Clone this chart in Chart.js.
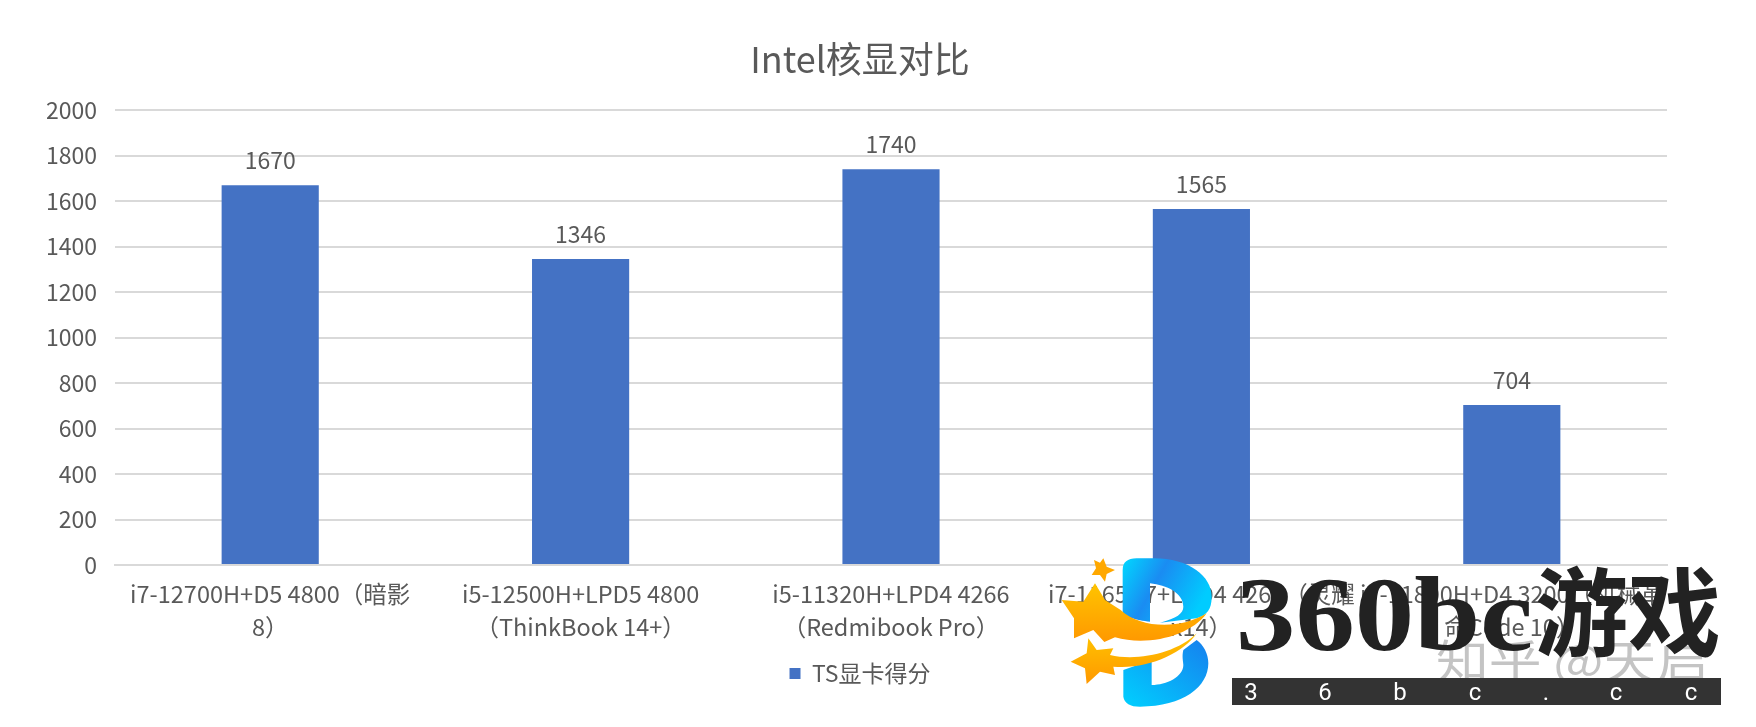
<!DOCTYPE html>
<html><head><meta charset="utf-8">
<style>html,body{margin:0;padding:0;background:#fff;overflow:hidden}
#w{position:relative;width:1756px;height:727px}
canvas{position:absolute;left:0;top:0}
#mark{position:absolute;left:0;top:0}
</style>
<script src="https://cdn.jsdelivr.net/npm/chart.js@4"></script>
</head><body>
<div id="w"><canvas id="c" width="1756" height="727"></canvas>
<svg id="mark" width="1756" height="727" viewBox="0 0 1756 727">
<defs>
<linearGradient id="bl" x1="0" y1="0" x2="1" y2="0.4"><stop offset="0" stop-color="#00d8ff"/><stop offset="0.45" stop-color="#1a8cf2"/><stop offset="1" stop-color="#00ccff"/></linearGradient>
<linearGradient id="bl2" x1="0" y1="1" x2="1" y2="0"><stop offset="0" stop-color="#00d0ff"/><stop offset="1" stop-color="#1680ee"/></linearGradient>
<linearGradient id="st" x1="0" y1="0" x2="0" y2="1"><stop offset="0" stop-color="#ffc400"/><stop offset="1" stop-color="#ff9800"/></linearGradient>
</defs>
<text x="1436" y="678" font-family="Noto Sans CJK SC" font-size="46" fill="#c4c4c4" textLength="273" lengthAdjust="spacingAndGlyphs">知乎 @天启</text>
<rect x="1232" y="678" width="489" height="27" fill="#333"/>
<g transform="translate(1050,550) scale(0.33333)">
<path d="M218 60Q218 25 260 25L310 25C420 25 485 80 485 140C485 180 470 195 440 205L330 218C380 205 400 190 400 170C400 130 350 105 300 100L300 215C260 210 218 200 218 185Z" fill="url(#bl)"/>
<path d="M220 360L220 440Q225 470 270 470C400 470 475 410 475 340C475 310 460 285 440 270L400 300C395 320 400 335 400 345C400 380 350 405 305 405L305 330Z" fill="url(#bl2)"/>
<path d="M135 100L165 150L212 180C270 235 390 240 470 190C420 260 290 290 195 262L163 276L130 240L72 265L72 205L35 150L100 155Z" fill="url(#st)"/>
<path d="M115 265L140 300L190 295L180 315C260 335 380 310 440 250C400 310 290 360 190 350L195 375L150 365L110 402L105 355L62 335L110 310Z" fill="url(#st)"/>
<path d="M160 25L170 50L195 60L170 72L165 95L150 75L125 75L138 55L132 30L150 38Z" fill="#ffa800"/>
</g>
<text x="1236" y="650" font-family="Liberation Serif" font-weight="700" font-size="106" fill="#222" textLength="297" lengthAdjust="spacingAndGlyphs">360bc</text>
<text x="1535" y="648" font-family="Noto Sans CJK SC" font-weight="700" font-size="96" fill="#222" textLength="186" lengthAdjust="spacingAndGlyphs">游戏</text>
<g font-family="Roboto" font-size="24" fill="#fff" text-anchor="middle">
<text x="1251" y="700">3</text><text x="1325" y="700">6</text><text x="1400" y="700">b</text><text x="1475" y="700">c</text><text x="1546" y="700">.</text><text x="1616" y="700">c</text><text x="1691" y="700">c</text>
</g>
</svg>
</div>
<script>
const categories = [
  ["i7-12700H+D5 4800（暗影","8）"],
  ["i5-12500H+LPD5 4800","（ThinkBook 14+）"],
  ["i5-11320H+LPD4 4266","（Redmibook Pro）"],
  ["i7-1165G7+LPD4 4266（灵耀","x14）"],
  ["i7-11800H+D4 3200（机械革","命Code 10）"]
];
const seriesName = "TS显卡得分";
const scores = [1670, 1346, 1740, 1565, 704];
const chartTitle = "Intel核显对比";
const FONT = '"Noto Sans CJK SC","Noto Sans",sans-serif';
const GREY = "#595959";

const valueLabels = {
  id: "valueLabels",
  afterDatasetsDraw(chart) {
    const { ctx } = chart;
    const meta = chart.getDatasetMeta(0);
    ctx.save();
    ctx.fillStyle = GREY;
    ctx.font = '23px ' + FONT;
    ctx.textAlign = "center";
    ctx.textBaseline = "middle";
    meta.data.forEach((bar, i) => ctx.fillText(String(scores[i]), bar.x, bar.y - 25));
    ctx.restore();
  }
};

new Chart(document.getElementById("c"), {
  type: "bar",
  data: { labels: categories, datasets: [{ label: seriesName, data: scores, backgroundColor: "#4472C4", categoryPercentage: 0.313, barPercentage: 1 }] },
  plugins: [valueLabels],
  options: {
    responsive: false, animation: false,
    layout: { padding: { left: 0, right: 36, top: 0, bottom: 32 } },
    plugins: {
      tooltip: { enabled: false },
      title: { display: true, text: chartTitle, color: GREY, font: { family: FONT, size: 36, weight: "normal", lineHeight: 1.2 }, padding: { top: 38, bottom: 29 } },
      legend: { position: "bottom", labels: { color: GREY, font: { family: FONT, size: 23 }, boxWidth: 11, boxHeight: 11, padding: 8 } }
    },
    scales: {
      x: {
        grid: { display: false }, border: { color: "#D9D9D9", width: 2 },
        ticks: { color: GREY, font: { family: FONT, size: 23.5, lineHeight: 1.4 }, autoSkip: false, maxRotation: 0, minRotation: 0, padding: 5 },
        afterFit(s) { s.height = 89; }
      },
      y: {
        min: 0, max: 2000,
        grid: { color: "#D9D9D9", lineWidth: 2, drawTicks: false }, border: { display: false },
        ticks: { color: GREY, font: { family: FONT, size: 23 }, stepSize: 200, padding: 18, callback: v => String(v) },
        afterFit(s) { s.width = 115; }
      },
      pad: {
        position: "right", display: true, grid: { display: false }, border: { display: false },
        ticks: { display: false }, afterFit(s) { s.width = 53; }
      }
    }
  }
});
</script>
</body></html>
